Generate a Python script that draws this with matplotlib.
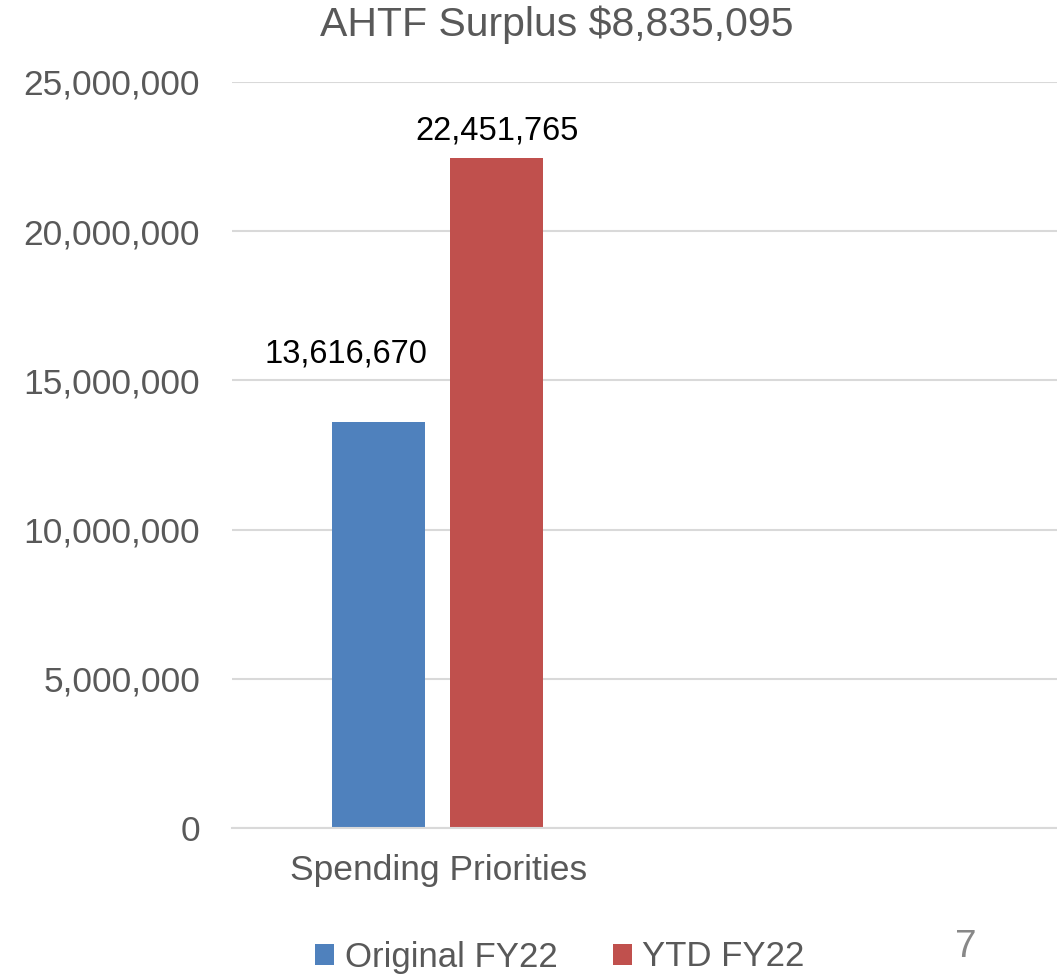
import numpy as np
import matplotlib.pyplot as plt
from matplotlib.ticker import FuncFormatter

plt.rcParams['font.family'] = ['Liberation Sans', 'DejaVu Sans']

categories = ["Spending Priorities", ""]
original_fy22 = [13616670, np.nan]
ytd_fy22 = [22451765, np.nan]
series_names = ["Original FY22", "YTD FY22"]
title = "AHTF Surplus $8,835,095"

blue = "#4f81bd"
red = "#c0504d"
gray = "#595959"

fig = plt.figure(figsize=(10.57, 9.76), dpi=100)
ax = fig.add_axes([232 / 1057, 1 - 828 / 976, 825 / 1057, 746 / 976])

x = np.arange(len(categories))
w = 0.225
b1 = ax.bar(x - 0.144, original_fy22, w, color=blue, label=series_names[0])
b2 = ax.bar(x + 0.142, ytd_fy22, w, color=red, label=series_names[1])

# label offsets (x in category units, y in data units) - labels were nudged in the original
offsets = {0: (-0.08, 1750000), 1: (0.0, 400000)}
for i, (bars, vals) in enumerate(((b1, original_fy22), (b2, ytd_fy22))):
    dx, dy = offsets[i]
    for rect, v in zip(bars, vals):
        if np.isnan(v):
            continue
        ax.text(rect.get_x() + rect.get_width() / 2 + dx, v + dy, f"{v:,.0f}",
                ha='center', va='bottom', fontsize=23.5, color='black')

ax.set_xlim(-0.5, 1.5)
ax.set_ylim(0, 25000000)
ax.set_yticks(np.arange(0, 25000001, 5000000))
ax.yaxis.set_major_formatter(FuncFormatter(lambda v, p: f"{v:,.0f}"))
ax.set_xticks(x)
ax.set_xticklabels(categories)
ax.tick_params(axis='both', length=0, labelsize=25.5, colors=gray)
ax.tick_params(axis='y', pad=23)
ax.tick_params(axis='x', pad=19)
ax.grid(axis='y', color='#d9d9d9', linewidth=1.5)
ax.set_axisbelow(True)
for s in ['top', 'right', 'left']:
    ax.spines[s].set_visible(False)
ax.spines['bottom'].set_color('#d9d9d9')
ax.spines['bottom'].set_linewidth(1.5)

fig.text(557 / 1057, 1 - 25 / 976, title, ha='center', va='center', fontsize=29.5, color=gray)

fig.legend(loc='center', bbox_to_anchor=(560 / 1057, 1 - 957 / 976), ncol=2, frameon=False,
           fontsize=25, labelcolor=gray, handlelength=0.55, handleheight=0.55,
           handletextpad=0.3, columnspacing=1.6)

fig.text(966 / 1057, 1 - 947 / 976, "7", ha='center', va='center', fontsize=28, color='#888888')

fig.savefig("out.png", dpi=100)
